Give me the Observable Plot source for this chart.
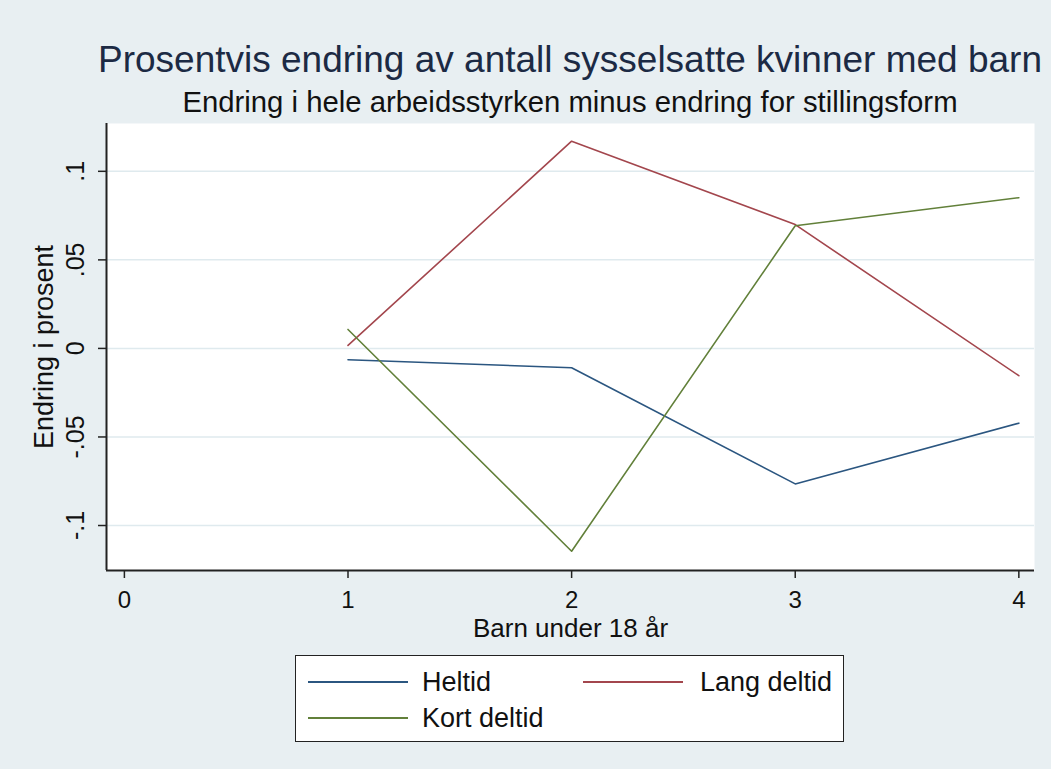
<!DOCTYPE html>
<html>
<head>
<meta charset="utf-8">
<script src="https://cdn.jsdelivr.net/npm/d3@7"></script>
<script src="https://cdn.jsdelivr.net/npm/@observablehq/plot@0.6"></script>
<style>
  html, body { margin: 0; padding: 0; }
  body { width: 1051px; height: 769px; background: #e8eff2; position: relative; overflow: hidden;
         font-family: "Liberation Sans", Arial, sans-serif; }
  #title { position: absolute; left: 70px; width: 1000px; top: 41px; text-align: center; line-height: 1;
           font-size: 37px; color: #1c2a44; white-space: nowrap; }
  #subtitle { position: absolute; left: 70px; width: 1000px; top: 87px; text-align: center; line-height: 1;
              font-size: 29.3px; color: #111; white-space: nowrap; }
  #chart { position: absolute; left: 0; top: 0; }
  #legend { position: absolute; left: 295px; top: 655px; width: 549px; height: 87px;
            background: #fff; border: 1.5px solid #222; box-sizing: border-box; }
  .swatch { position: absolute; width: 100px; height: 2px; }
  .label { position: absolute; font-size: 27px; line-height: 1; color: #111; white-space: nowrap; }
</style>
</head>
<body>
<div id="title">Prosentvis endring av antall sysselsatte kvinner med barn</div>
<div id="subtitle">Endring i hele arbeidsstyrken minus endring for stillingsform</div>
<div id="chart"></div>
<div id="legend"></div>
<script>
// Data
const barn = [1, 2, 3, 4];
const heltid = [-0.0064, -0.0109, -0.0765, -0.0422];
const langDeltid = [0.0017, 0.117, 0.0699, -0.0154];
const kortDeltid = [0.0107, -0.1145, 0.0693, 0.0851];
const seriesNames = ["Heltid", "Lang deltid", "Kort deltid"];
const seriesColors = ["#2b5680", "#a3464d", "#62803a"];
const xTicks = [0, 1, 2, 3, 4];
const yTicks = [-0.1, -0.05, 0, 0.05, 0.1];
const xDomain = [-0.08, 4.07];
const yDomain = [-0.1254, 0.127];

const seriesValues = [heltid, langDeltid, kortDeltid];
const rows = [];
seriesNames.forEach((name, i) => {
  barn.forEach((b, j) => rows.push({series: name, x: b, y: seriesValues[i][j]}));
});

const fmtY = d => d === 0 ? "0" : String(d).replace("0.", ".");

const chart = Plot.plot({
  width: 1051,
  height: 650,
  marginLeft: 106,
  marginRight: 17,
  marginTop: 123,
  marginBottom: 80,
  style: {background: "transparent", fontFamily: "Liberation Sans, Arial, sans-serif", color: "#111"},
  x: {domain: xDomain},
  y: {domain: yDomain},
  color: {domain: seriesNames, range: seriesColors},
  marks: [
    Plot.frame({fill: "white", stroke: "none"}),
    Plot.gridY(yTicks, {stroke: "#dfeaee", strokeOpacity: 1, strokeWidth: 1.5}),
    Plot.line(rows, {x: "x", y: "y", z: "series", stroke: "series", strokeWidth: 1.6}),
    Plot.ruleX([xDomain[0]], {stroke: "#222", strokeWidth: 2}),
    Plot.ruleY([yDomain[0]], {stroke: "#222", strokeWidth: 2}),
    Plot.axisY(yTicks, {tickFormat: fmtY, tickSize: 8, tickRotate: -90, fontSize: 25, label: null, stroke: "#222", strokeWidth: 1.5, tickPadding: 15}),
    Plot.axisX(xTicks, {tickFormat: d => String(d), tickSize: 8, fontSize: 24, label: null, stroke: "#222", strokeWidth: 1.5, tickPadding: 12}),
    Plot.text(["Endring i prosent"], {frameAnchor: "left", textAnchor: "middle", lineAnchor: "middle", dx: -62.6, rotate: -90, fontSize: 27, fill: "#111"}),
    Plot.text(["Barn under 18 år"], {frameAnchor: "bottom", textAnchor: "middle", lineAnchor: "middle", dy: 57.7, fontSize: 26, fill: "#111"})
  ]
});
document.getElementById("chart").appendChild(chart);

// Legend
const legend = document.getElementById("legend");
const legendPos = [
  {swatchLeft: 12, textLeft: 126, y: 26},
  {swatchLeft: 287, textLeft: 404, y: 26},
  {swatchLeft: 12, textLeft: 126, y: 62}
];
seriesNames.forEach((name, i) => {
  const p = legendPos[i];
  const s = document.createElement("div");
  s.className = "swatch";
  s.style.left = p.swatchLeft + "px";
  s.style.top = (p.y - 1) + "px";
  s.style.background = seriesColors[i];
  legend.appendChild(s);
  const t = document.createElement("div");
  t.className = "label";
  t.style.left = p.textLeft + "px";
  t.style.top = (p.y - 13) + "px";
  t.textContent = name;
  legend.appendChild(t);
});
</script>
</body>
</html>
